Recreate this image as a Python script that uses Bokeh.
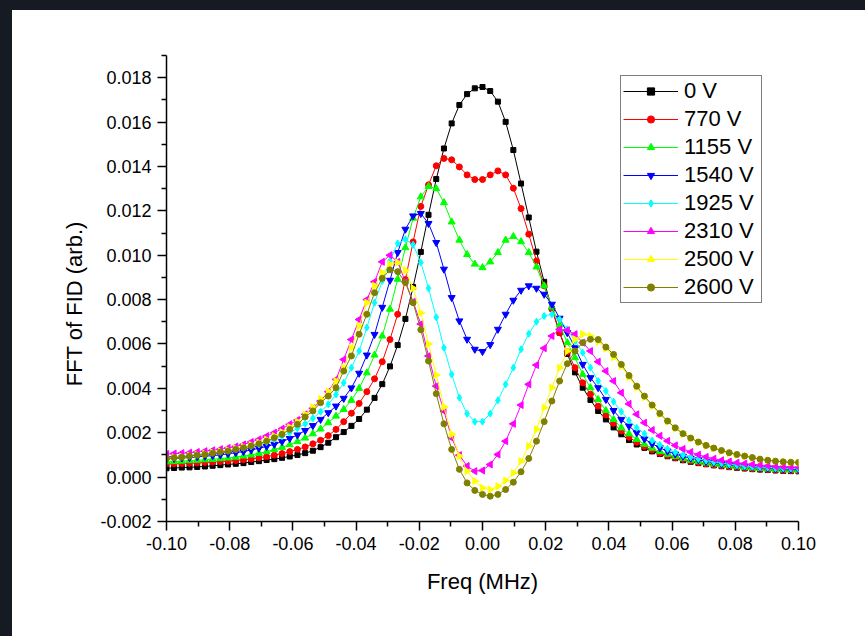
from bokeh.plotting import figure
from bokeh.models import Range1d, FixedTicker, PrintfTickFormatter, Legend, LegendItem, Div
from bokeh.layouts import column, row
from bokeh.embed import file_html
from bokeh.resources import INLINE

# Frequency axis (MHz)
freq = [-0.1, -0.0976, -0.09516, -0.09272, -0.09028, -0.08784, -0.0854, -0.08296, -0.08052, -0.07808,
        -0.07564, -0.0732, -0.07076, -0.06832, -0.06588, -0.06344, -0.061, -0.05856, -0.05612, -0.05368,
        -0.05124, -0.0488, -0.04636, -0.04392, -0.04148, -0.03904, -0.0366, -0.03416, -0.03172, -0.02928,
        -0.02684, -0.0244, -0.02196, -0.01952, -0.01708, -0.01464, -0.0122, -0.00976, -0.00732, -0.00488,
        -0.00244, 0.0,
        0.00244, 0.00488, 0.00732, 0.00976, 0.0122, 0.01464, 0.01708, 0.01952, 0.02196, 0.0244,
        0.02684, 0.02928, 0.03172, 0.03416, 0.0366, 0.03904, 0.04148, 0.04392, 0.04636, 0.0488,
        0.05124, 0.05368, 0.05612, 0.05856, 0.061, 0.06344, 0.06588, 0.06832, 0.07076, 0.0732,
        0.07564, 0.07808, 0.08052, 0.08296, 0.0854, 0.08784, 0.09028, 0.09272, 0.09516, 0.0976,
        0.1]

v_0 = [0.00040, 0.00041, 0.00043, 0.00044, 0.00046, 0.00048, 0.00051, 0.00054, 0.00057, 0.00060,
       0.00063, 0.00068, 0.00072, 0.00077, 0.00081, 0.00087, 0.00093, 0.00100, 0.00108, 0.00119,
       0.00135, 0.00155, 0.00180, 0.00203, 0.00231, 0.00262, 0.00304, 0.00357, 0.00419, 0.00499,
       0.00595, 0.00713, 0.00857, 0.01015, 0.01182, 0.01343, 0.01481, 0.01594, 0.01677, 0.01726,
       0.01752, 0.01758,
       0.01740, 0.01692, 0.01601, 0.01474, 0.01323, 0.01170, 0.01016, 0.00880, 0.00760, 0.00651,
       0.00555, 0.00472, 0.00403, 0.00348, 0.00298, 0.00260, 0.00224, 0.00193, 0.00167, 0.00147,
       0.00132, 0.00116, 0.00104, 0.00094, 0.00085, 0.00076, 0.00069, 0.00063, 0.00058, 0.00053,
       0.00049, 0.00045, 0.00042, 0.00039, 0.00036, 0.00034, 0.00032, 0.00030, 0.00028, 0.00027,
       0.00026]

v_770 = [0.00059, 0.00060, 0.00061, 0.00062, 0.00064, 0.00066, 0.00068, 0.00070, 0.00072, 0.00075,
         0.00078, 0.00082, 0.00087, 0.00092, 0.00099, 0.00106, 0.00115, 0.00125, 0.00136, 0.00150,
         0.00166, 0.00187, 0.00215, 0.00250, 0.00288, 0.00332, 0.00385, 0.00443, 0.00520, 0.00620,
         0.00734, 0.00890, 0.01060, 0.01220, 0.01317, 0.01403, 0.01436, 0.01430, 0.01398, 0.01362,
         0.01341, 0.01341,
         0.01362, 0.01380, 0.01362, 0.01302, 0.01210, 0.01095, 0.00974, 0.00862, 0.00758, 0.00651,
         0.00565, 0.00493, 0.00425, 0.00374, 0.00320, 0.00280, 0.00243, 0.00208, 0.00180, 0.00157,
         0.00138, 0.00122, 0.00108, 0.00097, 0.00088, 0.00080, 0.00072, 0.00066, 0.00060, 0.00055,
         0.00051, 0.00047, 0.00044, 0.00041, 0.00038, 0.00036, 0.00034, 0.00032, 0.00030, 0.00029,
         0.00028]

v_1155 = [0.00069, 0.00070, 0.00072, 0.00074, 0.00076, 0.00078, 0.00080, 0.00083, 0.00086, 0.00090,
          0.00095, 0.00100, 0.00107, 0.00115, 0.00124, 0.00134, 0.00146, 0.00160, 0.00176, 0.00195,
          0.00217, 0.00245, 0.00275, 0.00305, 0.00346, 0.00400, 0.00470, 0.00550, 0.00636, 0.00757,
          0.00892, 0.01034, 0.01167, 0.01263, 0.01310, 0.01300, 0.01237, 0.01150, 0.01068, 0.01003,
          0.00960, 0.00944,
          0.00970, 0.01012, 0.01068, 0.01084, 0.01061, 0.01012, 0.00947, 0.00862, 0.00767, 0.00686,
          0.00606, 0.00538, 0.00463, 0.00403, 0.00350, 0.00300, 0.00260, 0.00222, 0.00195, 0.00170,
          0.00148, 0.00130, 0.00115, 0.00103, 0.00093, 0.00084, 0.00076, 0.00070, 0.00064, 0.00059,
          0.00055, 0.00051, 0.00047, 0.00044, 0.00041, 0.00039, 0.00037, 0.00035, 0.00033, 0.00032,
          0.00031]

v_1540 = [0.00082, 0.00084, 0.00086, 0.00088, 0.00091, 0.00094, 0.00097, 0.00100, 0.00105, 0.00110,
          0.00115, 0.00122, 0.00130, 0.00138, 0.00148, 0.00160, 0.00174, 0.00190, 0.00210, 0.00232,
          0.00260, 0.00290, 0.00320, 0.00355, 0.00402, 0.00468, 0.00550, 0.00643, 0.00765, 0.00887,
          0.01012, 0.01117, 0.01177, 0.01188, 0.01143, 0.01057, 0.00937, 0.00809, 0.00704, 0.00621,
          0.00576, 0.00566,
          0.00597, 0.00666, 0.00734, 0.00797, 0.00842, 0.00862, 0.00851, 0.00824, 0.00779, 0.00716,
          0.00651, 0.00583, 0.00508, 0.00448, 0.00403, 0.00350, 0.00300, 0.00260, 0.00230, 0.00200,
          0.00172, 0.00150, 0.00132, 0.00117, 0.00104, 0.00094, 0.00085, 0.00078, 0.00071, 0.00065,
          0.00060, 0.00056, 0.00052, 0.00049, 0.00046, 0.00043, 0.00041, 0.00039, 0.00037, 0.00036,
          0.00035]

v_1925 = [0.00087, 0.00090, 0.00093, 0.00096, 0.00101, 0.00105, 0.00110, 0.00114, 0.00120, 0.00125,
          0.00132, 0.00138, 0.00147, 0.00158, 0.00170, 0.00184, 0.00200, 0.00220, 0.00240, 0.00265,
          0.00295, 0.00328, 0.00372, 0.00425, 0.00493, 0.00568, 0.00674, 0.00786, 0.00884, 0.00974,
          0.01053, 0.01072, 0.01047, 0.00967, 0.00851, 0.00720, 0.00583, 0.00463, 0.00358, 0.00286,
          0.00250, 0.00250,
          0.00286, 0.00346, 0.00418, 0.00493, 0.00576, 0.00646, 0.00700, 0.00726, 0.00734, 0.00711,
          0.00666, 0.00613, 0.00561, 0.00493, 0.00433, 0.00388, 0.00340, 0.00295, 0.00255, 0.00222,
          0.00195, 0.00165, 0.00145, 0.00127, 0.00112, 0.00100, 0.00090, 0.00082, 0.00075, 0.00068,
          0.00063, 0.00058, 0.00054, 0.00050, 0.00047, 0.00045, 0.00043, 0.00041, 0.00040, 0.00039,
          0.00038]

v_2310 = [0.00104, 0.00106, 0.00108, 0.00110, 0.00113, 0.00117, 0.00121, 0.00126, 0.00131, 0.00138,
          0.00147, 0.00158, 0.00170, 0.00185, 0.00200, 0.00218, 0.00238, 0.00257, 0.00283, 0.00310,
          0.00343, 0.00385, 0.00440, 0.00530, 0.00620, 0.00710, 0.00800, 0.00880, 0.00970, 0.01000,
          0.00970, 0.00880, 0.00790, 0.00690, 0.00546, 0.00410, 0.00298, 0.00177, 0.00099, 0.00050,
          0.00027, 0.00030,
          0.00057, 0.00102, 0.00162, 0.00240, 0.00325, 0.00418, 0.00505, 0.00581, 0.00636, 0.00666,
          0.00662, 0.00644, 0.00606, 0.00568, 0.00520, 0.00478, 0.00433, 0.00380, 0.00330, 0.00283,
          0.00245, 0.00212, 0.00186, 0.00163, 0.00143, 0.00127, 0.00113, 0.00101, 0.00091, 0.00083,
          0.00076, 0.00070, 0.00065, 0.00061, 0.00057, 0.00054, 0.00051, 0.00049, 0.00047, 0.00045,
          0.00044]

v_2500 = [0.00086, 0.00089, 0.00092, 0.00097, 0.00101, 0.00105, 0.00111, 0.00116, 0.00121, 0.00129,
          0.00137, 0.00145, 0.00156, 0.00169, 0.00185, 0.00202, 0.00225, 0.00250, 0.00283, 0.00315,
          0.00352, 0.00385, 0.00433, 0.00493, 0.00583, 0.00681, 0.00786, 0.00862, 0.00922, 0.00960,
          0.00967, 0.00932, 0.00851, 0.00740, 0.00600, 0.00460, 0.00316, 0.00193, 0.00095, 0.00027,
          -0.00018, -0.00048,
          -0.00056, -0.00041, -0.00015, 0.00019, 0.00072, 0.00140, 0.00215, 0.00313, 0.00403, 0.00493,
          0.00568, 0.00621, 0.00644, 0.00636, 0.00610, 0.00580, 0.00540, 0.00500, 0.00450, 0.00405,
          0.00360, 0.00320, 0.00283, 0.00250, 0.00220, 0.00194, 0.00174, 0.00156, 0.00141, 0.00129,
          0.00118, 0.00108, 0.00100, 0.00093, 0.00086, 0.00080, 0.00075, 0.00071, 0.00068, 0.00066,
          0.00065]

v_2600 = [0.00084, 0.00087, 0.00090, 0.00095, 0.00099, 0.00102, 0.00108, 0.00113, 0.00117, 0.00125,
          0.00132, 0.00140, 0.00150, 0.00162, 0.00177, 0.00193, 0.00215, 0.00238, 0.00271, 0.00298,
          0.00335, 0.00365, 0.00403, 0.00478, 0.00546, 0.00644, 0.00734, 0.00831, 0.00896, 0.00934,
          0.00926, 0.00877, 0.00786, 0.00664, 0.00523, 0.00376, 0.00240, 0.00125, 0.00035, -0.00026,
          -0.00060, -0.00078,
          -0.00086, -0.00078, -0.00056, -0.00023, 0.00024, 0.00084, 0.00162, 0.00250, 0.00343, 0.00433,
          0.00511, 0.00568, 0.00606, 0.00621, 0.00620, 0.00586, 0.00553, 0.00508, 0.00458, 0.00410,
          0.00365, 0.00325, 0.00287, 0.00253, 0.00222, 0.00196, 0.00176, 0.00158, 0.00143, 0.00131,
          0.00120, 0.00110, 0.00102, 0.00095, 0.00088, 0.00081, 0.00076, 0.00072, 0.00069, 0.00067,
          0.00066]

labels = ["0 V", "770 V", "1155 V", "1540 V", "1925 V", "2310 V", "2500 V", "2600 V"]
series = [v_0, v_770, v_1155, v_1540, v_1925, v_2310, v_2500, v_2600]

colors = ["#000000", "#FF0000", "#00FF00", "#0000FF", "#00FFFF", "#FF00FF", "#FFFF00", "#808000"]
markers = ["square", "circle", "triangle", "inverted_triangle", "diamond", "triangle", "triangle", "circle"]
angles = [0.0, 0.0, 0.0, 0.0, 0.0, 1.5708, -1.5708, 0.0]
sizes = [5, 6, 7, 7, 7, 7, 7, 6]

x_major = [-0.10, -0.08, -0.06, -0.04, -0.02, 0.0, 0.02, 0.04, 0.06, 0.08, 0.10]
x_minor = [-0.09, -0.07, -0.05, -0.03, -0.01, 0.01, 0.03, 0.05, 0.07, 0.09]
y_major = [-0.002, 0.0, 0.002, 0.004, 0.006, 0.008, 0.010, 0.012, 0.014, 0.016, 0.018]
y_minor = [-0.001, 0.001, 0.003, 0.005, 0.007, 0.009, 0.011, 0.013, 0.015, 0.017, 0.019]

FONT = "Liberation Sans"
NBSP = "\u00a0"
DARK = "#151a23"

p = figure(width=853, height=626, output_backend="svg", toolbar_location=None,
           x_range=Range1d(-0.1, 0.1), y_range=Range1d(-0.002, 0.019),
           min_border_left=154, min_border_right=67, min_border_top=45, min_border_bottom=115,
           margin=0)

p.xgrid.grid_line_color = None
p.ygrid.grid_line_color = None
p.outline_line_color = None
p.background_fill_color = "white"
p.border_fill_color = "white"

p.xaxis.ticker = FixedTicker(ticks=x_major, minor_ticks=x_minor)
p.yaxis.ticker = FixedTicker(ticks=y_major, minor_ticks=y_minor)
p.xaxis.formatter = PrintfTickFormatter(format="%.2f")
p.yaxis.formatter = PrintfTickFormatter(format="%.3f")
p.xaxis.axis_label = "Freq (MHz)"
# trailing non-breaking spaces nudge the centred label down, as in the original
p.yaxis.axis_label = "FFT of FID (arb.)" + NBSP * 5

for ax in (p.xaxis[0], p.yaxis[0]):
    ax.axis_line_color = "black"
    ax.axis_line_width = 1.5
    ax.major_tick_line_color = "black"
    ax.minor_tick_line_color = "black"
    ax.major_tick_line_width = 1.5
    ax.minor_tick_line_width = 1.5
    ax.major_tick_in = 0
    ax.major_tick_out = 9
    ax.minor_tick_in = 0
    ax.minor_tick_out = 5
    ax.major_label_text_font = FONT
    ax.major_label_text_font_size = "18px"
    ax.major_label_text_color = "black"
    ax.axis_label_text_font = FONT
    ax.axis_label_text_font_size = "22px"
    ax.axis_label_text_font_style = "normal"
    ax.axis_label_text_color = "black"

p.xaxis[0].major_label_standoff = 6
p.yaxis[0].major_label_standoff = 6
p.xaxis[0].axis_label_standoff = 16
p.yaxis[0].axis_label_standoff = 10

items = []
for lab, vals, c, m, a, s in zip(labels, series, colors, markers, angles, sizes):
    ln = p.line(freq, vals, line_color=c, line_width=1)
    sc = p.scatter(freq, vals, marker=m, size=s, angle=a, angle_units="rad",
                   fill_color=c, line_color=c)
    items.append(LegendItem(label=lab, renderers=[ln, sc]))

legend = Legend(items=items, location=(454, 218),
                border_line_color="black", border_line_width=1,
                background_fill_color="white", background_fill_alpha=1.0,
                padding=2, spacing=2, margin=0,
                glyph_width=55, glyph_height=18, label_height=18, label_width=75,
                label_standoff=6, label_text_font=FONT, label_text_font_size="22px",
                label_text_color="black")
p.add_layout(legend)

# dark frame of the original screenshot (top and left edges)
top_band = Div(text="", width=865, height=10, margin=0, styles={"background-color": DARK})
left_band = Div(text="", width=12, height=626, margin=0, styles={"background-color": DARK})
page = column(top_band, row(left_band, p, spacing=0, margin=0), spacing=0, margin=0)

open("out.html", "w").write(file_html(page, INLINE))
